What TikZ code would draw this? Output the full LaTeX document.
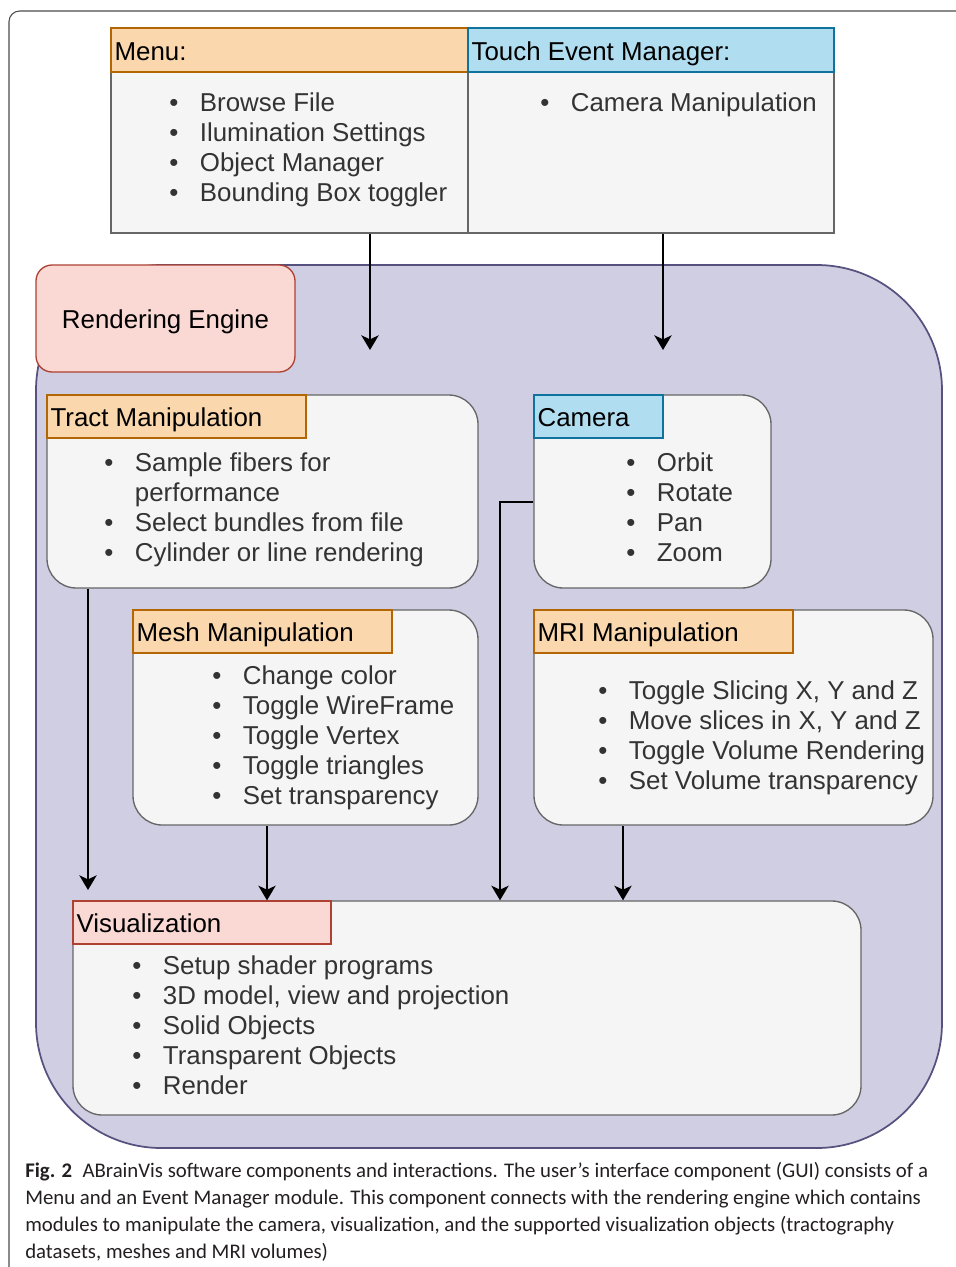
\documentclass[tikz,border=0pt]{standalone}
\usepackage{fontspec}
\setmainfont{Liberation Sans}
\newfontfamily\capfont{Carlito}
\usepackage{tikz}
\usetikzlibrary{arrows.meta,fit}
\definecolor{orfill}{HTML}{FAD7AC}
\definecolor{ordraw}{HTML}{B46504}
\definecolor{blfill}{HTML}{B1DDF0}
\definecolor{bldraw}{HTML}{10739E}
\definecolor{rdfill}{HTML}{FAD9D5}
\definecolor{rddraw}{HTML}{AE4132}
\definecolor{pufill}{HTML}{D0CEE2}
\definecolor{pudraw}{HTML}{56517E}
\definecolor{gyfill}{HTML}{F5F5F5}
\definecolor{gydraw}{HTML}{666666}
\definecolor{txtgray}{HTML}{333333}
\definecolor{capcol}{HTML}{231F20}
\newcommand{\itm}{\makebox[23pt][l]{\textbullet}}
\newcommand{\boxfont}{\fontsize{19.4}{22.5}\selectfont}
\tikzset{
  box/.style = {inner sep=0pt, line width=1pt},
  flatbox/.style = {box, fill=gyfill, draw=gydraw},
  modbox/.style = {flatbox, rounded corners=22pt},
  orhdr/.style = {box, fill=orfill, draw=ordraw},
  blhdr/.style = {box, fill=blfill, draw=bldraw},
  rdhdr/.style = {box, fill=rdfill, draw=rddraw},
  hdrlbl/.style = {anchor=west, inner sep=3pt, text height=15pt, text depth=0pt, text=black, font=\boxfont},
  engine/.style = {box, fill=pufill, draw=pudraw, line width=1.3pt, rounded corners=94pt},
  rebox/.style = {box, fill=rdfill, draw=rddraw, rounded corners=12pt},
  relbl/.style = {anchor=center, inner sep=0pt, text height=15.5pt, text depth=0pt, text=black, font=\boxfont},
  lst/.style = {anchor=base west, inner sep=0pt, text=txtgray, font=\boxfont},
  arr/.style = {-{Stealth[length=11pt,width=13pt,inset=3pt]}, line width=1.1pt, black},
  frame/.style = {draw=black!70, line width=0.8pt, rounded corners=8pt},
}
\begin{document}
\begin{tikzpicture}[x=0.75pt,y=-0.75pt]
\useasboundingbox (0,0) rectangle (956,1267);
\draw[frame] (9,1267) -- (9,11) -- (956,11);

% user interface
\node[flatbox, fit={(111,72)(468,233)}] (menub) {};
\node[orhdr, fit={(111,28)(468,72)}, label={[hdrlbl]west:Menu:}] (menuh) {};
\node[flatbox, fit={(468,72)(834,233)}] (touchb) {};
\node[blhdr, fit={(468,28)(834,72)}, label={[hdrlbl]west:Touch Event Manager:}] (touchh) {};
\node[lst] (menul) at (169,111) {\begin{tabular}[t]{@{}l@{}}
  \itm Browse File\\ \itm Ilumination Settings\\ \itm Object Manager\\ \itm Bounding Box toggler
\end{tabular}};
\node[lst] (touchl) at (540,111) {\begin{tabular}[t]{@{}l@{}}\itm Camera Manipulation\end{tabular}};

% rendering engine
\node[engine, fit={(36,265)(942,1148)}] (eng) {};
\node[rebox, fit={(36,265)(295,372)}, label={[relbl]center:Rendering Engine}] (re) {};

\node[modbox, fit={(47,395)(478,588)}] (tract) {};
\node[orhdr, fit={(47,395)(306,438)}, label={[hdrlbl]west:Tract Manipulation}] (tracth) {};
\node[lst] (tractl) at (104,471) {\begin{tabular}[t]{@{}l@{}}
  \itm Sample fibers for\\ \makebox[23pt]{}performance\\ \itm Select bundles from file\\ \itm Cylinder or line rendering
\end{tabular}};

\node[modbox, fit={(534,395)(771,588)}] (cam) {};
\node[blhdr, fit={(534,395)(663,438)}, label={[hdrlbl]west:Camera}] (camh) {};
\node[lst] (caml) at (626,471) {\begin{tabular}[t]{@{}l@{}}
  \itm Orbit\\ \itm Rotate\\ \itm Pan\\ \itm Zoom
\end{tabular}};

\node[modbox, fit={(133,610)(478,825)}] (mesh) {};
\node[orhdr, fit={(133,610)(392,653)}, label={[hdrlbl]west:Mesh Manipulation}] (meshh) {};
\node[lst] (meshl) at (212,684) {\begin{tabular}[t]{@{}l@{}}
  \itm Change color\\ \itm Toggle WireFrame\\ \itm Toggle Vertex\\ \itm Toggle triangles\\ \itm Set transparency
\end{tabular}};

\node[modbox, fit={(534,610)(933,825)}] (mri) {};
\node[orhdr, fit={(534,610)(793,653)}, label={[hdrlbl]west:MRI Manipulation}] (mrih) {};
\node[lst] (mril) at (598,699) {\begin{tabular}[t]{@{}l@{}}
  \itm Toggle Slicing X, Y and Z\\ \itm Move slices in X, Y and Z\\ \itm Toggle Volume Rendering\\ \itm Set Volume transparency
\end{tabular}};

\node[modbox, fit={(73,901)(861,1115)}] (vis) {};
\node[rdhdr, fit={(73,901)(331,944)}, label={[hdrlbl]west:Visualization}] (vish) {};
\node[lst] (visl) at (132,974) {\begin{tabular}[t]{@{}l@{}}
  \itm Setup shader programs\\ \itm 3D model, view and projection\\ \itm Solid Objects\\ \itm Transparent Objects\\ \itm Render
\end{tabular}};

% connectors
\coordinate (m1) at (370,350);
\coordinate (t1) at (663,350);
\coordinate (v1) at (88,890);
\coordinate (mx) at (267,0);
\coordinate (cx) at (500,502);
\coordinate (rx) at (623,0);
\draw[arr] (menub.south -| m1) -- (m1);
\draw[arr] (touchb.south -| t1) -- (t1);
\draw[arr] (tract.south -| v1) -- (v1);
\draw[arr] (mx |- mesh.south) -- (mx |- vis.north);
\draw[arr] (cam.west |- cx) -| (cx |- vis.north);
\draw[arr] (rx |- mri.south) -- (rx |- vis.north);

% caption
\node[anchor=base west, inner sep=0pt, text=capcol, font=\capfont\fontsize{15.6}{20.25}\selectfont] (cap) at (25,1177)
{\begin{tabular}[t]{@{}l@{}}
  \textbf{Fig. 2}\hspace{0.5em}ABrainVis software components and interactions. The user’s interface component (GUI) consists of a\\
  Menu and an Event Manager module. This component connects with the rendering engine which contains\\
  modules to manipulate the camera, visualization, and the supported visualization objects (tractography\\
  datasets, meshes and MRI volumes)
\end{tabular}};
\end{tikzpicture}
\end{document}
